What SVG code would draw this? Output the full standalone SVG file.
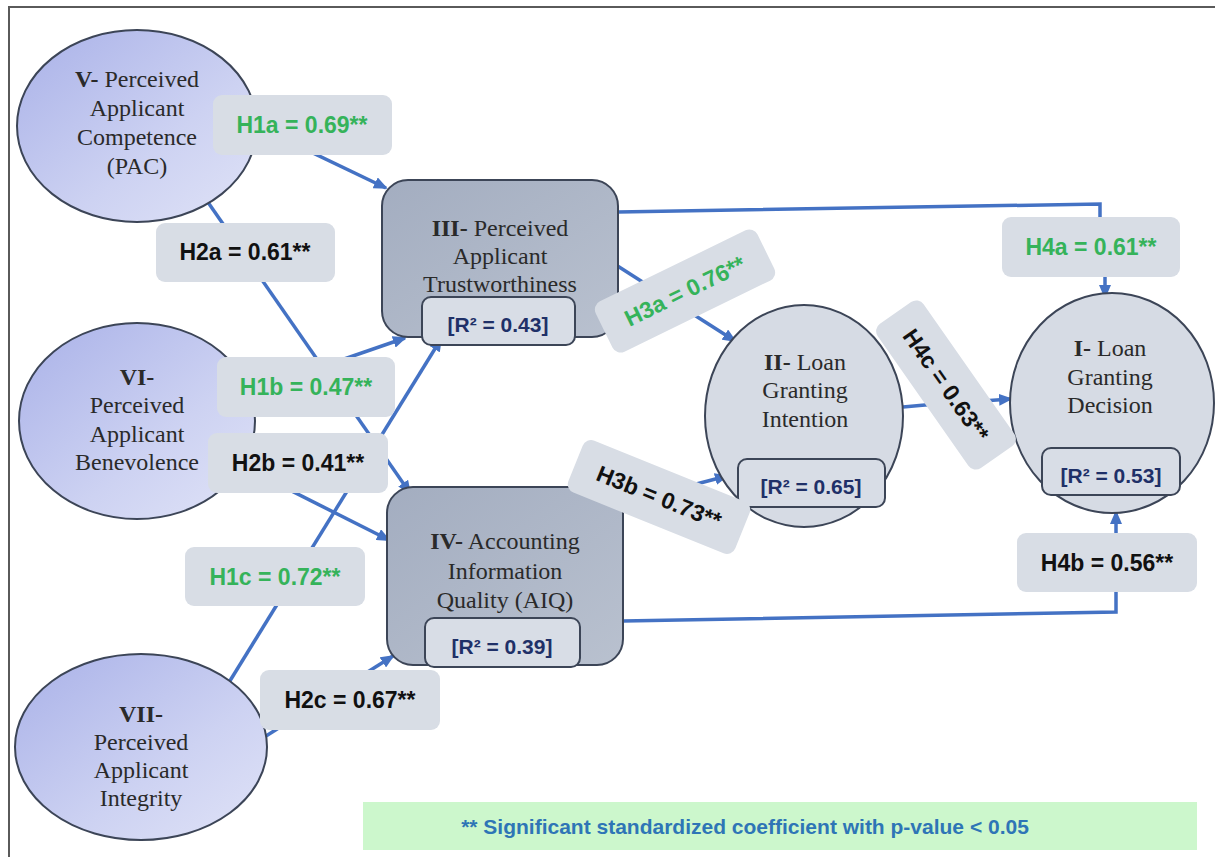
<svg xmlns="http://www.w3.org/2000/svg" width="1215" height="857" viewBox="0 0 1215 857">
<defs>
<linearGradient id="ellG" x1="0" y1="0" x2="1" y2="1">
<stop offset="0" stop-color="#a9b1e8"/>
<stop offset="0.6" stop-color="#cdd2f2"/>
<stop offset="1" stop-color="#e0e3f7"/>
</linearGradient>
<linearGradient id="boxG" x1="0" y1="0" x2="1" y2="1">
<stop offset="0" stop-color="#a3adc0"/>
<stop offset="1" stop-color="#b9c1cf"/>
</linearGradient>
<marker id="arr" markerWidth="14" markerHeight="12" refX="12" refY="6" orient="auto" markerUnits="userSpaceOnUse">
<path d="M0,0 L14,6 L0,12 z" fill="#4472c4"/>
</marker>
<style>
.frame{fill:none;stroke:#5a5a5a;stroke-width:2}
.ell{fill:url(#ellG);stroke:#3c4557;stroke-width:2}
.box{fill:url(#boxG);stroke:#3c4557;stroke-width:2}
.circ{fill:#d6dbe4;stroke:#3c4557;stroke-width:2}
.r2{fill:#d8dde6;stroke:#3c4557;stroke-width:2}
.lbl{fill:#d8dde5}
.ln{fill:none;stroke:#4472c4;stroke-width:3.5}
.ar{marker-end:url(#arr)}
.nt{font-family:"Liberation Serif",serif;font-size:24px;fill:#2a2a2a;text-anchor:middle}
.nt tspan.b{font-weight:bold}
.r2t{font-family:"Liberation Sans",sans-serif;font-size:21px;font-weight:bold;fill:#1f3068;text-anchor:middle}
.lt{font-family:"Liberation Sans",sans-serif;font-size:23px;font-weight:bold;text-anchor:middle}
.g{fill:#35b35a}
.k{fill:#111}
.leg{font-family:"Liberation Sans",sans-serif;font-size:21px;font-weight:bold;fill:#2e75b6;text-anchor:middle}
</style>
</defs>
<rect x="0" y="0" width="1215" height="857" fill="#ffffff"/>
<path class="frame" d="M9,857 L9,7 L1215,7"/>

<g id="connectors">
<line class="ln ar" x1="240" y1="118" x2="386" y2="188"/>
<line class="ln ar" x1="205" y1="198" x2="410" y2="493"/>
<line class="ln ar" x1="240" y1="395" x2="405" y2="338"/>
<line class="ln ar" x1="230" y1="460" x2="389" y2="540"/>
<line class="ln ar" x1="228" y1="684" x2="441" y2="339"/>
<line class="ln ar" x1="266" y1="736" x2="393" y2="656"/>
<line class="ln ar" x1="616" y1="265" x2="735" y2="341"/>
<line class="ln ar" x1="612" y1="506" x2="727" y2="476"/>
<polyline class="ln" points="618,212 1100,204 1100,220"/>
<line class="ln ar" x1="1105" y1="276" x2="1105" y2="297"/>
<polyline class="ln ar" points="903,407 925,405 1011,399"/>
<polyline class="ln" points="623,621 1116,612 1116,590"/>
<line class="ln ar" x1="1116" y1="534" x2="1116" y2="512"/>
</g>

<g id="node-V">
<ellipse class="ell" cx="137" cy="126" rx="120" ry="96"/>
<text class="nt" x="137" y="87"><tspan class="b">V-</tspan> Perceived</text>
<text class="nt" x="137" y="116">Applicant</text>
<text class="nt" x="137" y="145">Competence</text>
<text class="nt" x="137" y="174">(PAC)</text>
</g>

<g id="node-VI">
<ellipse class="ell" cx="137" cy="421" rx="118" ry="98"/>
<text class="nt" x="137" y="385"><tspan class="b">VI-</tspan></text>
<text class="nt" x="137" y="413">Perceived</text>
<text class="nt" x="137" y="442">Applicant</text>
<text class="nt" x="137" y="470">Benevolence</text>
</g>

<g id="node-VII">
<ellipse class="ell" cx="141" cy="747" rx="126" ry="93"/>
<text class="nt" x="141" y="722"><tspan class="b">VII-</tspan></text>
<text class="nt" x="141" y="750">Perceived</text>
<text class="nt" x="141" y="778">Applicant</text>
<text class="nt" x="141" y="806">Integrity</text>
</g>

<g id="node-III">
<rect class="box" x="382" y="180" width="236" height="157" rx="26"/>
<text class="nt" x="500" y="236"><tspan class="b">III-</tspan> Perceived</text>
<text class="nt" x="500" y="264">Applicant</text>
<text class="nt" x="500" y="292">Trustworthiness</text>
<rect class="r2" x="422" y="297" width="153" height="48" rx="9"/>
<text class="r2t" x="498" y="332">[R² = 0.43]</text>
</g>

<g id="node-IV">
<rect class="box" x="387" y="487" width="236" height="178" rx="26"/>
<text class="nt" x="505" y="549"><tspan class="b">IV-</tspan> Accounting</text>
<text class="nt" x="505" y="579">Information</text>
<text class="nt" x="505" y="608">Quality (AIQ)</text>
<rect class="r2" x="425" y="618" width="155" height="49" rx="9"/>
<text class="r2t" x="502" y="654">[R² = 0.39]</text>
</g>

<g id="node-II">
<ellipse class="circ" cx="804" cy="416" rx="99" ry="111"/>
<text class="nt" x="805" y="370"><tspan class="b">II-</tspan> Loan</text>
<text class="nt" x="805" y="398">Granting</text>
<text class="nt" x="805" y="427">Intention</text>
<rect class="r2" x="738" y="459" width="147" height="48" rx="9"/>
<text class="r2t" x="811" y="494">[R² = 0.65]</text>
</g>

<g id="node-I">
<ellipse class="circ" cx="1112" cy="403" rx="102" ry="110"/>
<text class="nt" x="1110" y="356"><tspan class="b">I-</tspan> Loan</text>
<text class="nt" x="1110" y="385">Granting</text>
<text class="nt" x="1110" y="413">Decision</text>
<rect class="r2" x="1042" y="448" width="138" height="47" rx="9"/>
<text class="r2t" x="1111" y="483">[R² = 0.53]</text>
</g>

<g id="label-H1a">
<rect class="lbl" x="213" y="95" width="179" height="60" rx="9"/>
<text class="lt g" x="302" y="133">H1a = 0.69**</text>
</g>
<g id="label-H2a">
<rect class="lbl" x="156" y="223" width="179" height="59" rx="9"/>
<text class="lt k" x="245" y="260">H2a = 0.61**</text>
</g>
<g id="label-H1b">
<rect class="lbl" x="217" y="357" width="178" height="60" rx="9"/>
<text class="lt g" x="306" y="395">H1b = 0.47**</text>
</g>
<g id="label-H2b">
<rect class="lbl" x="208" y="433" width="180" height="60" rx="9"/>
<text class="lt k" x="298" y="471">H2b = 0.41**</text>
</g>
<g id="label-H1c">
<rect class="lbl" x="185" y="547" width="180" height="59" rx="9"/>
<text class="lt g" x="275" y="585">H1c = 0.72**</text>
</g>
<g id="label-H2c">
<rect class="lbl" x="260" y="670" width="180" height="60" rx="9"/>
<text class="lt k" x="350" y="708">H2c = 0.67**</text>
</g>
<g id="label-H3a" transform="translate(685,291) rotate(-26)">
<rect class="lbl" x="-90" y="-28" width="180" height="56" rx="9"/>
<text class="lt g" x="0" y="8">H3a = 0.76**</text>
</g>
<g id="label-H3b" transform="translate(659,497) rotate(22)">
<rect class="lbl" x="-90" y="-28" width="180" height="56" rx="9"/>
<text class="lt k" x="0" y="8">H3b = 0.73**</text>
</g>
<g id="label-H4c" transform="translate(946,385) rotate(55)">
<rect class="lbl" x="-88" y="-28" width="176" height="56" rx="9"/>
<text class="lt k" x="0" y="8">H4c = 0.63**</text>
</g>
<g id="label-H4a">
<rect class="lbl" x="1002" y="217" width="178" height="60" rx="9"/>
<text class="lt g" x="1091" y="255">H4a = 0.61**</text>
</g>
<g id="label-H4b">
<rect class="lbl" x="1017" y="533" width="180" height="59" rx="9"/>
<text class="lt k" x="1107" y="571">H4b = 0.56**</text>
</g>

<g id="legend">
<rect x="363" y="802" width="834" height="48" fill="#ccf7cc"/>
<text class="leg" x="745" y="834">** Significant standardized coefficient with p-value &lt; 0.05</text>
</g>
</svg>
